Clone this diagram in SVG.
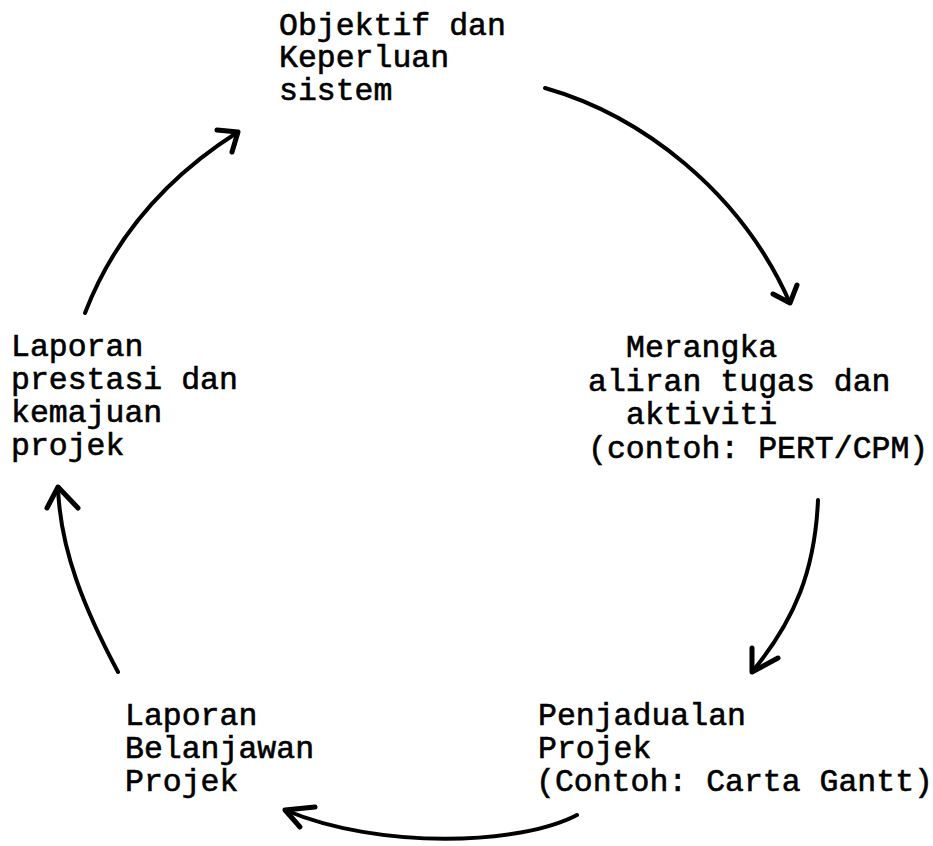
<svg xmlns="http://www.w3.org/2000/svg" width="933" height="846" viewBox="0 0 933 846">
  <style>
    .t { font-family: "Liberation Mono", "Courier New", monospace; font-size: 31.5px; fill: #000; stroke: #000; stroke-width: 0.6px; }
    .c { fill: none; stroke: #000; stroke-width: 4px; stroke-linecap: round; stroke-linejoin: round; }
    .h { fill: none; stroke: #000; stroke-width: 5px; stroke-linecap: round; stroke-linejoin: round; }
  </style>
  <rect width="933" height="846" fill="#fff"/>
  <g id="node-objektif">
    <text class="t" x="279" y="35">Objektif dan</text>
    <text class="t" x="279" y="67">Keperluan</text>
    <text class="t" x="279" y="100">sistem</text>
  </g>
  <g id="node-merangka">
    <text class="t" x="626" y="357">Merangka</text>
    <text class="t" x="588" y="391">aliran tugas dan</text>
    <text class="t" x="626" y="424">aktiviti</text>
    <text class="t" x="588" y="458">(contoh: PERT/CPM)</text>
  </g>
  <g id="node-penjadualan">
    <text class="t" x="538" y="725">Penjadualan</text>
    <text class="t" x="538" y="758">Projek</text>
    <text class="t" x="536" y="791">(Contoh: Carta Gantt)</text>
  </g>
  <g id="node-belanjawan">
    <text class="t" x="125" y="725">Laporan</text>
    <text class="t" x="125" y="758">Belanjawan</text>
    <text class="t" x="125" y="791">Projek</text>
  </g>
  <g id="node-prestasi">
    <text class="t" x="11" y="356">Laporan</text>
    <text class="t" x="11" y="389">prestasi dan</text>
    <text class="t" x="11" y="422">kemajuan</text>
    <text class="t" x="11" y="455">projek</text>
  </g>
  <g id="connectors">
    <path class="c" d="M545,88 C640,115 740,190 790,303"/>
    <path class="h" d="M773,294 L790,303 L797,285"/>
    <path class="c" d="M818,500 C815,570 795,620 752,672"/>
    <path class="h" d="M752,648 L752,672 L778,658"/>
    <path class="c" d="M577,815 C520,845 380,850 285,810"/>
    <path class="h" d="M315,807 L285,810 L300,827"/>
    <path class="c" d="M118,672 C85,610 60,550 58,487"/>
    <path class="h" d="M47,508 L58,487 L78,508"/>
    <path class="c" d="M85,313 C115,235 170,175 238,132"/>
    <path class="h" d="M217,130 L238,132 L232,152"/>
  </g>
</svg>
